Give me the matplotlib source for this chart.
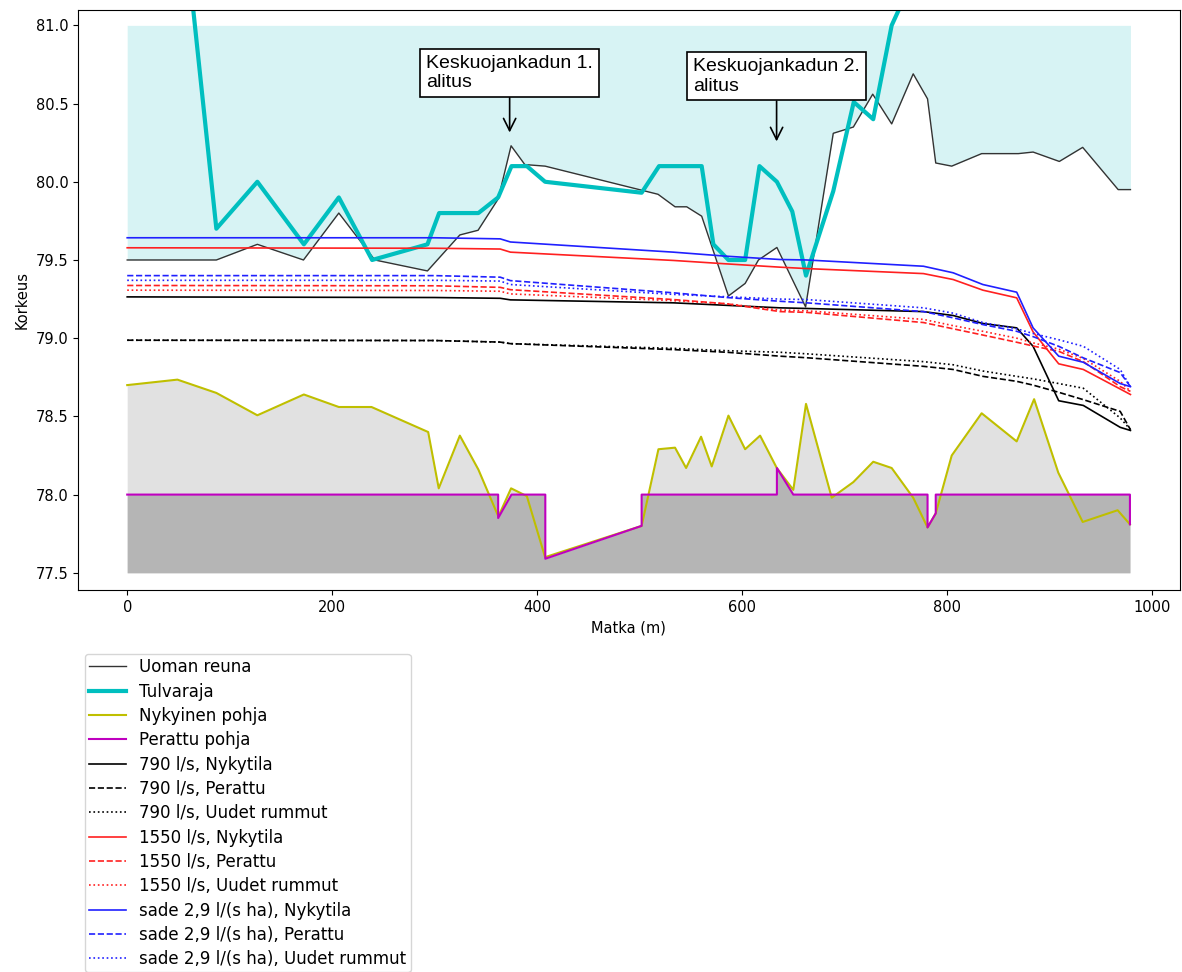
import matplotlib
matplotlib.use("Agg")
import matplotlib.pyplot as plt
import numpy as np

# ---- data ----
reuna_x = [0, 87, 127, 172, 206.5, 241.6, 293, 324.6, 342.4, 362, 374.6, 388, 407.8, 518, 534.6, 546,
           560.6, 586.7, 603, 616, 634, 662, 689, 708.6, 727.5, 746, 767, 781, 789, 804.6, 833.8,
           869.6, 884, 909.6, 932.4, 967, 979]
reuna_y = [79.50, 79.50, 79.60, 79.50, 79.80, 79.50, 79.43, 79.66, 79.69, 79.89, 80.23, 80.11, 80.10,
           79.92, 79.84, 79.84, 79.78, 79.27, 79.35, 79.50, 79.58, 79.20, 80.31, 80.35, 80.56, 80.37,
           80.69, 80.53, 80.12, 80.10, 80.18, 80.18, 80.19, 80.13, 80.22, 79.95, 79.95]

tulva_x = [0, 87, 127, 172.4, 206.5, 239, 293, 304.4, 342.7, 362, 375, 390, 407.8, 502, 519, 560.6,
           572, 586.7, 603, 617, 634, 649, 662.4, 689, 709, 728, 746, 767, 800, 900, 979]
tulva_y = [85.1, 79.70, 80.00, 79.60, 79.90, 79.50, 79.60, 79.80, 79.80, 79.90, 80.10, 80.10, 80.00,
           79.93, 80.10, 80.10, 79.60, 79.50, 79.50, 80.10, 80.00, 79.81, 79.40, 79.94, 80.51, 80.40,
           81.00, 81.30, 81.60, 81.80, 81.90]

pohja_x = [0, 49, 87, 127, 172.4, 206.5, 238.4, 293.7, 304, 324.6, 342.7, 362.2, 374.6, 390, 407.8,
           502, 518.4, 534.6, 545.4, 560, 570.4, 586.7, 603, 617.6, 633.9, 650, 662.4, 687.5, 708.6,
           728, 746, 767, 781, 789, 804.6, 833.8, 868, 885, 908.6, 932.4, 966.5, 978.5]
pohja_y = [78.70, 78.735, 78.65, 78.507, 78.64, 78.56, 78.56, 78.40, 78.04, 78.377, 78.16, 77.86,
           78.04, 77.99, 77.60, 77.80, 78.29, 78.30, 78.17, 78.37, 78.18, 78.505, 78.29, 78.377, 78.17,
           78.03, 78.58, 77.98, 78.08, 78.21, 78.17, 77.98, 77.79, 77.88, 78.25, 78.52, 78.34, 78.61,
           78.14, 77.825, 77.90, 77.81]

perattu_x = [0, 362, 362, 375, 408, 408, 502, 502, 634, 634, 650, 781, 781, 789, 789, 978.5, 978.5]
perattu_y = [78.0, 78.0, 77.85, 78.0, 78.0, 77.59, 77.80, 78.0, 78.0, 78.17, 78.0, 78.0, 77.79, 77.88,
             78.0, 78.0, 77.81]

ws_x = [0, 300, 364, 374, 533, 585, 637, 663, 777, 806, 835, 868, 884, 909, 933, 969, 979]
q790_nyky = [79.264, 79.26, 79.255, 79.245, 79.226, 79.21, 79.194, 79.19, 79.17, 79.145, 79.094,
             79.066, 78.948, 78.60, 78.57, 78.43, 78.41]
q790_per = [78.987, 78.985, 78.975, 78.965, 78.927, 78.91, 78.885, 78.875, 78.82, 78.80, 78.756,
            78.724, 78.70, 78.654, 78.607, 78.532, 78.415]
q790_uud = [78.987, 78.985, 78.975, 78.965, 78.935, 78.92, 78.91, 78.90, 78.85, 78.83, 78.79,
            78.756, 78.74, 78.71, 78.68, 78.49, 78.415]
q1550_nyky = [79.578, 79.575, 79.57, 79.55, 79.497, 79.475, 79.454, 79.445, 79.413, 79.375, 79.307,
              79.258, 79.04, 78.836, 78.80, 78.675, 78.64]
q1550_per = [79.337, 79.335, 79.325, 79.31, 79.247, 79.22, 79.17, 79.165, 79.10, 79.06, 79.02,
             78.974, 78.95, 78.916, 78.85, 78.69, 78.66]
q1550_uud = [79.307, 79.305, 79.30, 79.283, 79.24, 79.22, 79.18, 79.175, 79.12, 79.08, 79.044,
             79.0, 78.97, 78.93, 78.87, 78.724, 78.66]
sade_nyky = [79.642, 79.642, 79.635, 79.615, 79.55, 79.524, 79.503, 79.50, 79.46, 79.418, 79.343,
             79.294, 79.066, 78.885, 78.846, 78.71, 78.69]
sade_per = [79.40, 79.40, 79.39, 79.368, 79.29, 79.26, 79.236, 79.226, 79.17, 79.13, 79.087,
            79.044, 79.01, 78.948, 78.874, 78.78, 78.69]
sade_uud = [79.37, 79.37, 79.365, 79.343, 79.28, 79.265, 79.25, 79.247, 79.194, 79.16, 79.10,
            79.06, 79.03, 78.99, 78.948, 78.80, 78.69]

labels = ["Uoman reuna", "Tulvaraja", "Nykyinen pohja", "Perattu pohja",
          "790 l/s, Nykytila", "790 l/s, Perattu", "790 l/s, Uudet rummut",
          "1550 l/s, Nykytila", "1550 l/s, Perattu", "1550 l/s, Uudet rummut",
          "sade 2,9 l/(s ha), Nykytila", "sade 2,9 l/(s ha), Perattu", "sade 2,9 l/(s ha), Uudet rummut"]

annot1 = "Keskuojankadun 1.\nalitus"
annot2 = "Keskuojankadun 2.\nalitus"

# ---- figure ----
fig = plt.figure(figsize=(11.82, 9.72), dpi=100)
ax = fig.add_axes([0.066, 0.393, 0.932, 0.597])

ax.fill_between(reuna_x, reuna_y, 81.0, color="#d7f3f4", lw=0)
ax.fill_between(pohja_x, pohja_y, 77.5, color="#e1e1e1", lw=0)
ax.fill_between(perattu_x, perattu_y, 77.5, color="#b5b5b5", lw=0)

ax.plot(reuna_x, reuna_y, color="#333333", lw=1.0, label=labels[0])
ax.plot(tulva_x, tulva_y, color="c", lw=3.0, label=labels[1])
ax.plot(pohja_x, pohja_y, color="y", lw=1.5, label=labels[2])
ax.plot(perattu_x, perattu_y, color="m", lw=1.5, label=labels[3])

lw = 1.2
ax.plot(ws_x, q790_nyky, color="k", ls="-", lw=lw, label=labels[4])
ax.plot(ws_x, q790_per, color="k", ls="--", lw=lw, label=labels[5])
ax.plot(ws_x, q790_uud, color="k", ls=":", lw=lw, label=labels[6])
ax.plot(ws_x, q1550_nyky, color="#ff2020", ls="-", lw=lw, label=labels[7])
ax.plot(ws_x, q1550_per, color="#ff2020", ls="--", lw=lw, label=labels[8])
ax.plot(ws_x, q1550_uud, color="#ff2020", ls=":", lw=lw, label=labels[9])
ax.plot(ws_x, sade_nyky, color="#2020ff", ls="-", lw=lw, label=labels[10])
ax.plot(ws_x, sade_per, color="#2020ff", ls="--", lw=lw, label=labels[11])
ax.plot(ws_x, sade_uud, color="#2020ff", ls=":", lw=lw, label=labels[12])

bbox = dict(boxstyle="square,pad=0.3", fc="white", ec="black", lw=1.2)
ax.annotate(annot1, xy=(373.2, 80.315), xytext=(373.2, 80.696), fontsize=14,
            family="Liberation Sans", bbox=bbox, va="center", ha="center", multialignment="left",
            arrowprops=dict(arrowstyle="->", color="black", lw=1.2, shrinkA=0, shrinkB=0,
                            mutation_scale=22))
ax.annotate(annot2, xy=(633.7, 80.258), xytext=(633.7, 80.674), fontsize=14,
            family="Liberation Sans", bbox=bbox, va="center", ha="center", multialignment="left",
            arrowprops=dict(arrowstyle="->", color="black", lw=1.2, shrinkA=0, shrinkB=0,
                            mutation_scale=22))

ax.set_xlim(-48, 1027)
ax.set_ylim(77.39, 81.1)
ax.set_xticks([0, 200, 400, 600, 800, 1000])
ax.set_yticks([77.5, 78.0, 78.5, 79.0, 79.5, 80.0, 80.5, 81.0])
ax.tick_params(labelsize=10.5)
ax.set_xlabel("Matka (m)", fontsize=10.5)
ax.set_ylabel("Korkeus", fontsize=10.5)

fig.legend(loc="upper left", bbox_to_anchor=(0.072, 0.327), fontsize=12,
           frameon=True, fancybox=True, borderaxespad=0, labelspacing=0.38,
           borderpad=0.25, handlelength=2.2)

fig.savefig("out.png", dpi=100)
